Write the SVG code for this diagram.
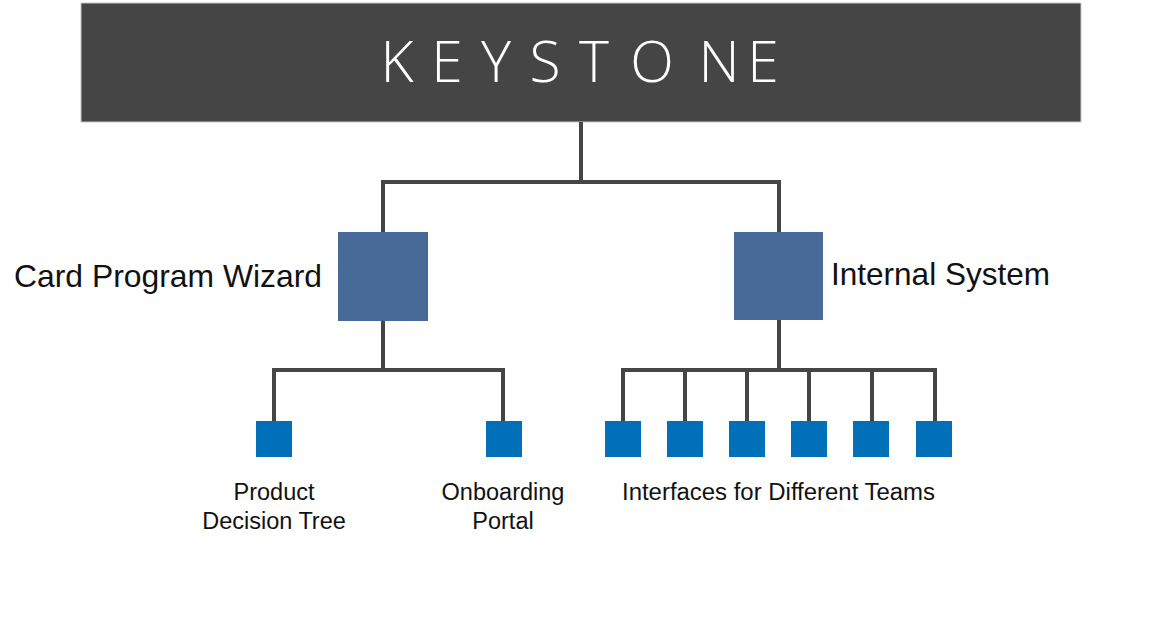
<svg xmlns="http://www.w3.org/2000/svg" width="1162" height="632" viewBox="0 0 1162 632">
<style>
.conn{fill:none;stroke:#454545;stroke-width:4;stroke-linejoin:miter;stroke-linecap:butt}
.mid{fill:#486a98}
.leaf{fill:#0070b9}
.lbl{font-family:"Liberation Sans",Arial,sans-serif;fill:#111;}
</style>
<rect width="1162" height="632" fill="#ffffff"/>
<g id="keystone">
<rect x="81" y="3" width="1000" height="119" fill="#454545" stroke="#c8c8c8" stroke-width="1"/>
<text x="397 447 496 545 594 652 719 763" y="82" text-anchor="middle" font-family="'Open Sans',sans-serif" font-weight="300" font-size="57" fill="#ffffff">KEYSTONE</text>
</g>
<g id="connectors">
<path class="conn" d="M581 122V182M383 232V182H779V232"/>
<path class="conn" d="M383 321V370M274 421V370H503V421"/>
<path class="conn" d="M779 320V370M623 421V370H935V421M685 370V421M747 370V421M809 370V421M872 370V421"/>
</g>
<g id="card-program-wizard">
<rect class="mid" x="338" y="232" width="90" height="89"/>
<text class="lbl" x="14" y="287" font-size="32" textLength="308" lengthAdjust="spacingAndGlyphs">Card Program Wizard</text>
</g>
<g id="internal-system">
<rect class="mid" x="734" y="232" width="89" height="88"/>
<text class="lbl" x="831" y="285" font-size="32" textLength="219" lengthAdjust="spacingAndGlyphs">Internal System</text>
</g>
<g id="product-decision-tree">
<rect class="leaf" x="256" y="421" width="36" height="36"/>
<text class="lbl" x="274" y="500" font-size="23.5" text-anchor="middle">Product</text>
<text class="lbl" x="274" y="529" font-size="23.5" text-anchor="middle">Decision Tree</text>
</g>
<g id="onboarding-portal">
<rect class="leaf" x="486" y="421" width="36" height="36"/>
<text class="lbl" x="503" y="500" font-size="23.5" text-anchor="middle">Onboarding</text>
<text class="lbl" x="503" y="529" font-size="23.5" text-anchor="middle">Portal</text>
</g>
<g id="interfaces">
<rect class="leaf" x="605" y="421" width="36" height="36"/>
<rect class="leaf" x="667" y="421" width="36" height="36"/>
<rect class="leaf" x="729" y="421" width="36" height="36"/>
<rect class="leaf" x="791" y="421" width="36" height="36"/>
<rect class="leaf" x="853" y="421" width="36" height="36"/>
<rect class="leaf" x="916" y="421" width="36" height="36"/>
<text class="lbl" x="622" y="500" font-size="23.5" textLength="313" lengthAdjust="spacingAndGlyphs">Interfaces for Different Teams</text>
</g>
</svg>
